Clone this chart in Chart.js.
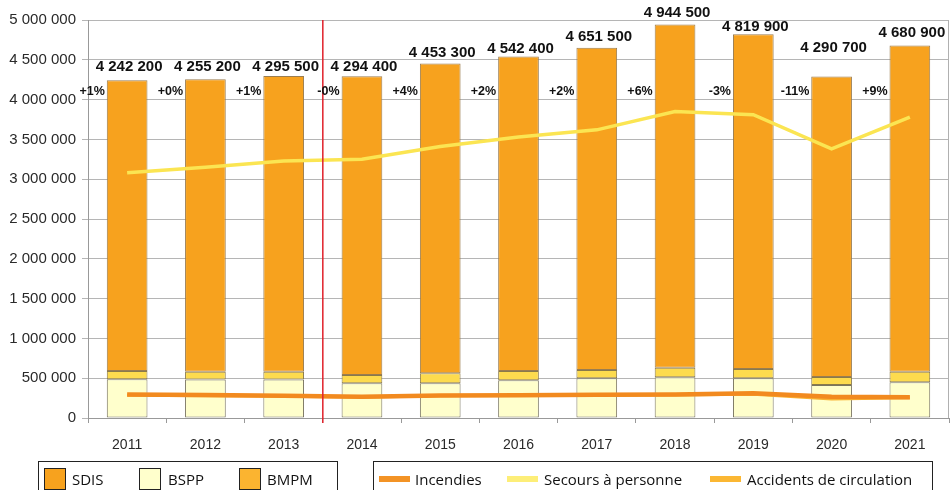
<!DOCTYPE html>
<html>
<head>
<meta charset="utf-8">
<script src="https://cdn.jsdelivr.net/npm/chart.js@4"></script>
<style>
html,body{margin:0;padding:0;background:#fff;}
#wrap{position:relative;width:952px;height:490px;overflow:hidden;}
#c{position:absolute;left:0;top:0;}
.box{position:absolute;top:461px;height:40px;border:1.5px solid #222;box-sizing:border-box;font-family:"Open Sans","Noto Sans",sans-serif;font-size:15px;color:#111;}
.sw{position:absolute;top:6px;width:22px;height:22px;border:1.5px solid #222;box-sizing:border-box;}
.ln{position:absolute;top:14px;width:31px;height:6px;}
.tx{position:absolute;top:8px;line-height:18px;white-space:nowrap;}
</style>
</head>
<body>
<div id="wrap">
<canvas id="c" width="952" height="490"></canvas>
<div class="box" style="left:38px;width:300px;">
  <div class="sw" style="left:5px;background:#F7A21E;"></div><div class="tx" style="left:33px;">SDIS</div>
  <div class="sw" style="left:100px;background:#FFFFCC;"></div><div class="tx" style="left:129px;">BSPP</div>
  <div class="sw" style="left:200px;background:#FBB430;"></div><div class="tx" style="left:228px;">BMPM</div>
</div>
<div class="box" style="left:373px;width:560px;">
  <div class="ln" style="left:5px;background:#F39325;"></div><div class="tx" style="left:41px;">Incendies</div>
  <div class="ln" style="left:133px;background:#FDEE78;"></div><div class="tx" style="left:170px;">Secours à personne</div>
  <div class="ln" style="left:336px;background:#FBB733;"></div><div class="tx" style="left:373px;">Accidents de circulation</div>
</div>
</div>
<script>
const years = ['2011','2012','2013','2014','2015','2016','2017','2018','2019','2020','2021'];
const totals = [4242200, 4255200, 4295500, 4294400, 4453300, 4542400, 4651500, 4944500, 4819900, 4290700, 4680900];
const bspp = [486000, 484000, 484000, 436000, 436000, 473000, 498000, 511000, 498000, 415000, 448000];
const bmpm = [104000, 96000, 96000, 104000, 125000, 117000, 105000, 121000, 118000, 100000, 134000];
const sdis = [3652200, 3675200, 3715500, 3754400, 3892300, 3952400, 4048500, 4312500, 4203900, 3775700, 4098900];
const pctLabels = ['+1%','+0%','+1%','-0%','+4%','+2%','+2%','+6%','-3%','-11%','+9%'];
const incendies = [295000, 288000, 278000, 268000, 282000, 286000, 292000, 296000, 310000, 268000, 262000];
const secours = [3080000, 3150000, 3230000, 3250000, 3410000, 3530000, 3620000, 3850000, 3810000, 3380000, 3780000];
const accidents = [285000, 280000, 272000, 262000, 278000, 282000, 286000, 290000, 298000, 240000, 255000];

const fmt = v => String(v).replace(/\B(?=(\d{3})+(?!\d))/g, ' ');

const labelsPlugin = {
  id: 'labelsPlugin',
  afterDatasetsDraw(chart, args, opts) {
    const ctx = chart.ctx;
    const y = chart.scales.y;
    const a = chart.chartArea;
    const x = chart.scales.x;
    const xs = (x.getPixelForValue(2) + x.getPixelForValue(3)) / 2;
    ctx.save();
    ctx.strokeStyle = '#E0202A';
    ctx.lineWidth = 1.5;
    ctx.beginPath();
    ctx.moveTo(xs, a.top);
    ctx.lineTo(xs, a.bottom + 5);
    ctx.stroke();
    ctx.strokeStyle = '#b0b0b0';
    ctx.lineWidth = 1;
    ctx.beginPath();
    ctx.moveTo(a.right - 0.5, a.top);
    ctx.lineTo(a.right - 0.5, a.bottom);
    ctx.stroke();
    const idx = chart.data.datasets.findIndex(d => d.label === 'SDIS');
    const meta = chart.getDatasetMeta(idx);
    ctx.fillStyle = '#111';
    meta.data.forEach((bar, i) => {
      ctx.font = 'bold 15px "Liberation Sans", Arial, sans-serif';
      ctx.textAlign = 'center';
      ctx.textBaseline = 'middle';
      ctx.fillText(fmt(totals[i]), bar.x + 2, bar.y - opts.lifts[i]);
      ctx.font = 'bold 12.5px "Liberation Sans", Arial, sans-serif';
      ctx.textAlign = 'right';
      ctx.fillText(pctLabels[i], bar.x - bar.width / 2 - 2, y.getPixelForValue(4100000));
    });
    ctx.restore();
  }
};

new Chart(document.getElementById('c'), {
  data: {
    labels: years,
    datasets: [
      {type:'line', label:'Secours à personne', data: secours, borderColor:'#FBE552', borderWidth:3.5, pointRadius:0, tension:0, stack:'l2', order:1},
      {type:'line', label:'Incendies', data: incendies, borderColor:'#F28A1F', borderWidth:4.5, pointRadius:0, tension:0, stack:'l1', order:2},
      {type:'line', label:'Accidents de circulation', data: accidents, borderColor:'#F9B233', borderWidth:3, pointRadius:0, tension:0, stack:'l3', order:3},
      {type:'bar', label:'BSPP', data: bspp, backgroundColor:'#FFFFCC', borderColor:'#7a7560', borderWidth:1, borderSkipped:false, stack:'b', order:10},
      {type:'bar', label:'BMPM', data: bmpm, backgroundColor:'#FDDB4E', borderColor:'#8a7a4a', borderWidth:1, borderSkipped:false, stack:'b', order:11},
      {type:'bar', label:'SDIS', data: sdis, backgroundColor:'#F7A21E', borderColor:'#9a7d50', borderWidth:1, borderSkipped:false, stack:'b', order:12}
    ]
  },
  options: {
    responsive: false,
    animation: false,
    devicePixelRatio: 1,
    layout: {padding: {left: 0, right: 3, top: 20, bottom: 0}},
    datasets: {bar: {barPercentage: 0.52, categoryPercentage: 1}},
    plugins: {
      legend: {display: false},
      tooltip: {enabled: false},
      labelsPlugin: {lifts: [13.6, 12.6, 9.4, 9.5, 10.2, 7.3, 10.4, 11.1, 7, 28.8, 12.1]}
    },
    scales: {
      x: {
        stacked: true,
        offset: true,
        grid: {offset: true, drawOnChartArea: false, drawTicks: true, tickLength: 5, color: '#999'},
        border: {color: '#999'},
        ticks: {color: '#2a2a2a', font: {family: '"Liberation Sans", Arial, sans-serif', size: 14}, padding: 14, maxRotation: 0},
        afterFit: s => { s.height = 72; }
      },
      y: {
        stacked: true,
        min: 0, max: 5000000,
        ticks: {stepSize: 500000, color: '#2a2a2a', font: {family: '"Liberation Sans", Arial, sans-serif', size: 15}, padding: 6, callback: v => fmt(v)},
        grid: {color: '#b5b5b5', tickLength: 6, lineWidth: 1},
        border: {color: '#999'},
        afterFit: s => { s.width = 88; }
      }
    }
  },
  plugins: [labelsPlugin]
});
</script>
</body>
</html>
